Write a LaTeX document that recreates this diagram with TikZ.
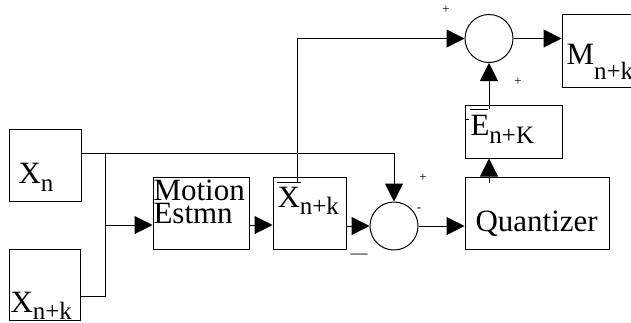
\documentclass[tikz,border=0pt]{standalone}
\usepackage{fontspec}
\setmainfont{Liberation Serif}
\usetikzlibrary{arrows.meta}
\newcommand{\mysb}[2]{\raisebox{-#1pt}{\fontsize{25}{25}\selectfont #2}}
\begin{document}
\begin{tikzpicture}[x=1pt,y=-1pt,line width=1pt,
  blk/.style n args={2}{draw,rectangle,inner sep=0pt,minimum width=#1pt,minimum height=#2pt},
  sumc/.style={draw,circle,inner sep=0pt,minimum size=48pt},
  txt/.style={inner sep=0pt,anchor=base west,font=\fontsize{31}{31}\selectfont},
  sml/.style={inner sep=0pt,font=\fontsize{13}{13}\selectfont},
  arr/.style={-{Triangle[length=18pt,width=18pt]}}]
\useasboundingbox (0,0) rectangle (631,322);
% boxes
\node[blk={72}{72}] (xn) at (45,165) {};
\node[blk={71}{71}] (xnk) at (44.5,284.5) {};
\node[blk={96}{72}] (mot) at (201,213) {};
\node[blk={73}{72}] (xb) at (309.5,213) {};
\node[blk={144}{72}] (q) at (537,213) {};
\node[blk={97}{53}] (e) at (513.5,131.5) {};
\node[blk={72}{73}] (m) at (598,50.5) {};
\node[sumc] (s2) at (394,226) {};
\node[sumc] (s1) at (489,38.5) {};
% texts
\node[txt] (txn) at (18,183) {X\mysb{8}{n}};
\node[txt] (txnk) at (10,312) {X\mysb{7}{n+k}};
\node[txt] (tmot) at (153,200) {Motion};
\node[txt] (test) at (153,223) {Estmn};
\node[txt] (txb) at (277,207) {X\mysb{7}{n+k}};
\node[txt] (te) at (470,135) {E\mysb{8}{n+K}};
\node[txt] (tq) at (475,231) {Quantizer};
\node[txt] (tm) at (566,64) {M\mysb{15}{n+k}};
\node[sml] (p1) at (446,10) {+};
\node[sml] (p2) at (518,82) {+};
\node[sml] (p3) at (423,178) {+};
\node[sml] (mi) at (419,210) {-};
\node[inner sep=0pt,font=\fontsize{17}{17}\selectfont] (dash) at (359,256) {—};
% coordinates
\coordinate (xnout) at (81,153);
\coordinate (c1) at (394,153);
\coordinate (ja) at (105,153);
\coordinate (jb) at (105,296);
\coordinate (jm) at (105,225);
\coordinate (xnkout) at (80,296);
\coordinate (xbo) at (297,182);
\coordinate (xbt) at (297,38.5);
\coordinate (eo) at (489,109);
\coordinate (qt) at (489,183);
% overlines and ticks
\draw (277,182) -- (301,182);
\draw (470,109) -- (488,109);
\draw (466,119) -- (469,119);
% wires
\draw[arr] (xnout) -- (c1) -- (s2.north);
\draw (ja) -- (jb) -- (xnkout);
\draw[arr] (jm) -- (mot.west |- jm);
\draw[arr] (mot.east |- 0,225) -- (xb.west |- 0,225);
\draw[arr] (xb.east |- s2) -- (s2.west);
\draw[arr] (s2.east) -- (q.west |- s2);
\draw[arr] (qt) -- (e.south -| qt);
\draw[arr] (eo) -- (s1.south);
\draw[arr] (xbo) -- (xbt) -- (s1.west);
\draw[arr] (s1.east) -- (m.west |- s1);
\end{tikzpicture}
\end{document}
